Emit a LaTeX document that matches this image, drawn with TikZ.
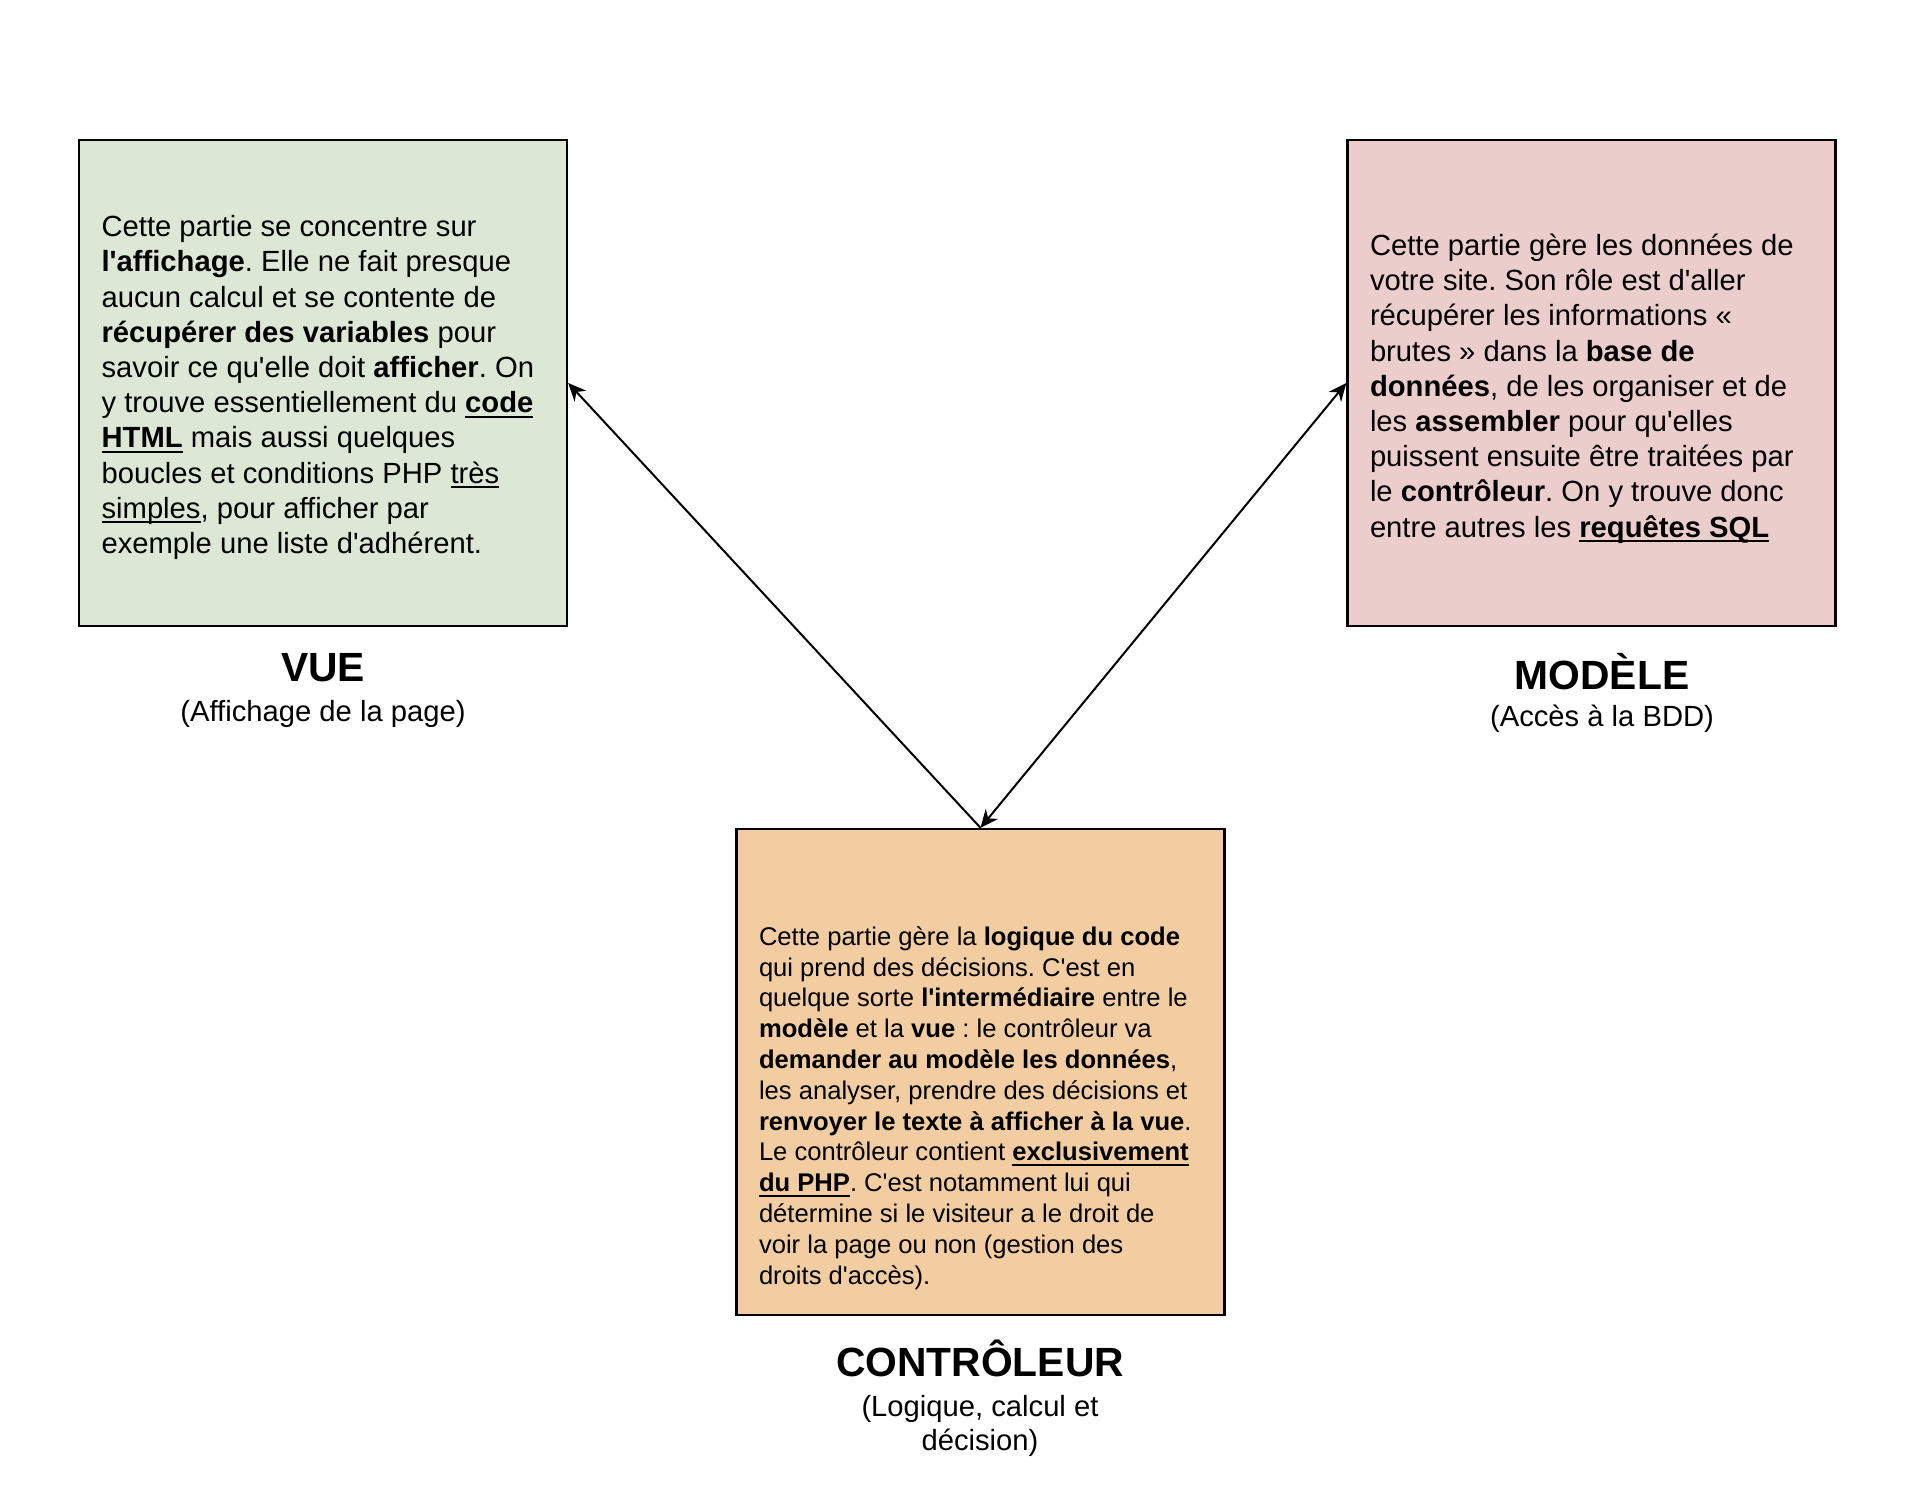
\documentclass[tikz,border=0pt]{standalone}
\usepackage{fontspec}
\newfontfamily\arialfont{Liberation Sans}
\frenchspacing
\usetikzlibrary{arrows.meta,positioning}
\definecolor{vuegreen}{HTML}{DCE8D5}
\definecolor{modelered}{HTML}{EBCDCC}
\definecolor{ctrlorange}{HTML}{F1CDA1}
\newsavebox{\ulinebox}
\newcommand{\uln}[1]{\sbox\ulinebox{#1}\rlap{\rule[-2.5pt]{\wd\ulinebox}{0.9pt}}\usebox\ulinebox}
\newcommand{\ub}[1]{\uln{\textbf{#1}}}
\tikzset{
  partbox/.style={draw=black, line width=1.2pt, minimum width=244pt, minimum height=243pt, inner sep=0pt},
  bodytext/.style={font=\arialfont\frenchspacing\fontsize{14.6}{17.6}\selectfont, align=left, inner sep=0pt, anchor=west},
  smalltext/.style={font=\arialfont\frenchspacing\fontsize{12.8}{15.4}\selectfont, align=left, inner sep=0pt, anchor=west},
  partname/.style={font=\arialfont\bfseries\fontsize{20.4}{24}\selectfont, inner sep=0pt},
  partrole/.style={font=\arialfont\fontsize{14.6}{17.2}\selectfont, align=center, inner sep=0pt}
}

\begin{document}
\begin{tikzpicture}[x=0.5pt, y=-0.5pt, >={Stealth[length=9pt,width=8pt]}, line width=1pt]
  \fill[white] (0,0) rectangle (1924,1488);
  \useasboundingbox (0,0) rectangle (1924,1488);

  \node[partbox, fill=vuegreen] (vue) at (323,383) {};
  \node[partbox, fill=modelered] (modele) at (1591.5,383) {};
  \node[partbox, fill=ctrlorange] (ctrl) at (980.5,1072) {};

  \node[bodytext] (vuetext) at (100.6,387.5) {Cette partie se concentre sur\\
    \textbf{l'affichage}. Elle ne fait presque\\
    aucun calcul et se contente de\\
    \textbf{récupérer des variables} pour\\
    savoir ce qu'elle doit \textbf{afficher}. On\\
    y trouve essentiellement du \ub{code}\\
    \ub{HTML} mais aussi quelques\\
    boucles et conditions PHP \uln{très}\\
    \uln{simples}, pour afficher par\\
    exemple une liste d'adhérent.};
  \node[bodytext] (modeletext) at (1369,388.5) {Cette partie gère les données de\\
    votre site. Son rôle est d'aller\\
    récupérer les informations «\\
    brutes » dans la \textbf{base de}\\
    \textbf{données}, de les organiser et de\\
    les \textbf{assembler} pour qu'elles\\
    puissent ensuite être traitées par\\
    le \textbf{contrôleur}. On y trouve donc\\
    entre autres les \ub{requêtes SQL}};
  \node[smalltext] (ctrltext) at (758,1108) {Cette partie gère la \textbf{logique du code}\\
    qui prend des décisions. C'est en\\
    quelque sorte \textbf{l'intermédiaire} entre le\\
    \textbf{modèle} et la \textbf{vue} : le contrôleur va\\
    \textbf{demander au modèle les données},\\
    les analyser, prendre des décisions et\\
    \textbf{renvoyer le texte à afficher à la vue}.\\
    Le contrôleur contient \ub{exclusivement}\\
    \ub{du PHP}. C'est notamment lui qui\\
    détermine si le visiteur a le droit de\\
    voir la page ou non (gestion des\\
    droits d'accès).};

  \node[partname] (vuename) at (323,668) {VUE};
  \node[partrole] (vuerole) at (323,714) {(Affichage de la page)};
  \node[partname] (modelename) at (1602,672) {MODÈLE};
  \node[partrole] (modelerole) at (1602,719) {(Accès à la BDD)};
  \node[partname] (ctrlname) at (980,1358) {CONTRÔLEUR};
  \node[partrole] (ctrlrole) at (980,1426) {(Logique, calcul et\\décision)};

  \draw[->] (ctrl.north) -- (vue.east);
  \draw[<->] (ctrl.north) -- (modele.west);
\end{tikzpicture}
\end{document}
